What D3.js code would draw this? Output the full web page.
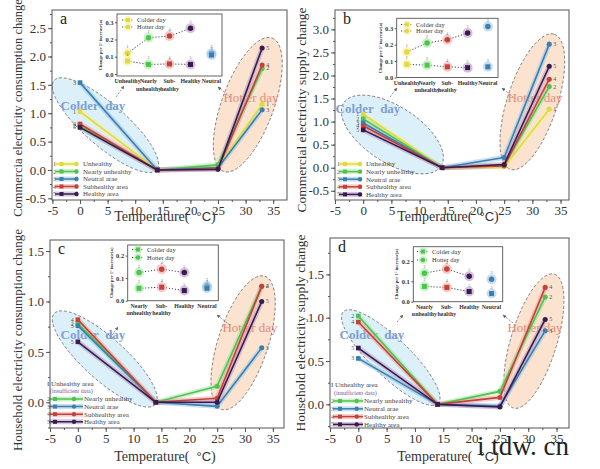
<!DOCTYPE html>
<html><head><meta charset="utf-8">
<script src="https://cdn.jsdelivr.net/npm/d3@7"></script>
<style>body{margin:0;background:#fff}svg{display:block}</style>
</head><body><svg id="c" width="600" height="469" font-family="Liberation Serif, Times New Roman, serif"></svg>
<script>
// ---------- DATA ----------
const temps = [0, 14, 25, 33];
const groupKeys = ["U", "N", "Ne", "S", "H"];
const groupNames = ["Unhealthy", "Nearly unhealthy", "Neutral arae", "Subhealthy area", "Healthy area"];
const groupIds = ["1", "2", "3", "4", "5"];
// panel a : commercial electricity consumption
const aUnhealthy = [1.03, 0, 0.06, 1.16];
const aNearly    = [0.77, 0, 0.09, 1.79];
const aNeutral   = [1.54, 0, 0.04, 1.06];
const aSub       = [0.81, 0, 0.02, 1.85];
const aHealthy   = [0.75, 0, 0.01, 2.15];
// panel b : commercial electricity supply
const bUnhealthy = [1.16, 0, 0.02, 1.27];
const bNearly    = [1.06, 0, 0.05, 1.76];
const bNeutral   = [0.97, 0, 0.22, 2.68];
const bSub       = [0.91, 0, 0.04, 1.92];
const bHealthy   = [0.82, 0, 0.07, 2.20];
// panel c : household electricity consumption
const cNearly    = [0.78, 0, 0.16, 1.15];
const cNeutral   = [0.76, 0, -0.04, 0.54];
const cSub       = [0.82, 0, 0.04, 1.15];
const cHealthy   = [0.60, 0, 0.00, 1.00];
// panel d : household electricity supply
const dNearly    = [1.02, 0, 0.15, 1.24];
const dNeutral   = [0.53, 0, -0.02, 0.85];
const dSub       = [0.95, 0, 0.08, 1.35];
const dHealthy   = [0.65, 0, -0.03, 0.98];
// tick labels
const xTicks  = [-5, 0, 5, 10, 15, 20, 25, 30, 35];
const yTicksA = [-0.5, 0, 0.5, 1, 1.5, 2, 2.5];
const yTicksB = [-0.5, 0, 0.5, 1, 1.5, 2, 2.5, 3];
const yTicksC = [0, 0.5, 1, 1.5];
const yTicksD = [0, 0.5, 1, 1.5];
const insetTicksAB = [0, 0.1, 0.2, 0.3];
const insetTicksCD = [0, 0.1, 0.2];
// insets: change per 1 degree increase
const insetCatsAB = ["Unhealthy", "Nearly unhealthy", "Sub-healthy", "Healthy", "Neutral"];
const insetKeysAB = ["U", "N", "S", "H", "Ne"];
const insetCatsCD = ["Nearly unhealthy", "Sub-healthy", "Healthy", "Neutral"];
const insetKeysCD = ["N", "S", "H", "Ne"];
const insetAHot  = [0.12, 0.21, 0.22, 0.265, 0.12];
const insetACold = [0.075, 0.055, 0.058, 0.055, 0.11];
const insetBHot  = [0.155, 0.21, 0.23, 0.27, 0.31];
const insetBCold = [0.08, 0.075, 0.065, 0.06, 0.065];
const insetCHot  = [0.125, 0.14, 0.125, 0.065];
const insetCCold = [0.055, 0.06, 0.045, 0.055];
const insetDHot  = [0.14, 0.16, 0.125, 0.11];
const insetDCold = [0.075, 0.07, 0.05, 0.04];

// ---------- STYLE ----------
const SERIF = '"Liberation Serif","Times New Roman",serif';
const col  = {U:"#e0d93f", N:"#4fc24f", Ne:"#3b7fb0", S:"#c4403a", H:"#3a1a4e"};
const halo = {U:"#f3f09a", N:"#a6e8a6", Ne:"#9cc6e6", S:"#f0a4a0", H:"#b49ac4"};
const catLines = {"Unhealthy":["Unhealthy"], "Nearly unhealthy":["Nearly","unhealthy"], "Sub-healthy":["Sub-","healthy"], "Healthy":["Healthy"], "Neutral":["Neutral"]};
const fmt = v => d3.format(".1f")(v).replace("\u2212", "-");

const mk = (keys, vals) => keys.map((k, i) => ({k, id: groupIds[groupKeys.indexOf(k)], name: groupNames[groupKeys.indexOf(k)], v: vals[i]}));

const panels = [
 {letter:"a", frame:[52,10,287,200], xd:[-5.07,37.5], yd:[-0.53,2.82], yt:yTicksA,
  series: mk(["U","N","Ne","S","H"], [aUnhealthy,aNearly,aNeutral,aSub,aHealthy]),
  ytitle:"Commercia electricity consumption change", ytx:22, yty:108, ytfs:12.5, xtx:165, xty:221,
  legend:{x:53, y:164, dy:7.5, end:25, sq:8.5, ci:23.5, tx:30, header:false},
  ell:[{cx:4.6,cy:0.79,rx:68,ry:21,rot:41,t:"cold"},{cx:30.4,cy:1.15,rx:71,ry:26,rot:-70,t:"hot"}],
  coldT:[93,110], hotT:[251,102],
  inset:{r:[117,14,222,76], yd:[-0.012,0.348], yt:insetTicksAB, cats:insetCatsAB, keys:insetKeysAB, hot:insetAHot, cold:insetACold, leg:[122,20,7]},
  arrows:[[116,97,124,86],[230,97,218,87]]},
 {letter:"b", frame:[335,10,569,200], xd:[-5,36.5], yd:[-0.7,3.42], yt:yTicksB,
  series: mk(["U","N","Ne","S","H"], [bUnhealthy,bNearly,bNeutral,bSub,bHealthy]),
  ytitle:"Commercial electricity supply change", ytx:306, yty:110, ytfs:13.5, xtx:448, xty:221,
  legend:{x:337, y:164, dy:7.6, end:25, sq:8, ci:23, tx:29, header:false},
  ell:[{cx:5.18,cy:0.72,rx:58,ry:28,rot:33,t:"cold"},{cx:30,cy:1.43,rx:71,ry:25,rot:-72,t:"hot"}],
  coldT:[368,113], hotT:[535,102],
  inset:{r:[396.7,18.3,498,77.5], yd:[0,0.36], yt:insetTicksAB, cats:insetCatsAB, keys:insetKeysAB, hot:insetBHot, cold:insetBCold, leg:[401,24.5,6.5]},
  arrows:[[390,97,397,88],[513,97,502,88]]},
 {letter:"c", frame:[50,240,284,428], xd:[-5,37], yd:[-0.255,1.61], yt:yTicksC,
  series: mk(["N","Ne","S","H"], [cNearly,cNeutral,cSub,cHealthy]),
  ytitle:"Household electricity consumption change", ytx:22, yty:340, ytfs:13, xtx:165, xty:461,
  legend:{x:47, y:399, dy:7.6, end:36, sq:8, ci:27, tx:37, header:[47,386,392.5]},
  ell:[{cx:4.83,cy:0.43,rx:68,ry:21,rot:42,t:"cold"},{cx:29.66,cy:0.59,rx:70,ry:25,rot:-72,t:"hot"}],
  coldT:[93,339], hotT:[250,332],
  inset:{r:[127.7,245,218.3,300.7], yd:[0,0.247], yt:insetTicksCD, cats:insetCatsCD, keys:insetKeysCD, hot:insetCHot, cold:insetCCold, leg:[132,249.5,8]},
  arrows:[[110,338,118,327],[230,325,217,315]]},
 {letter:"d", frame:[330,238,569,428], xd:[-5,37.2], yd:[-0.273,1.92], yt:yTicksD,
  series: mk(["N","Ne","S","H"], [dNearly,dNeutral,dSub,dHealthy]),
  ytitle:"Household electricity supply change", ytx:305, yty:333, ytfs:13.5, xtx:448, xty:461,
  legend:{x:331, y:401, dy:7.8, end:32, sq:9, ci:25.7, tx:33, header:[331,387,394.5]},
  ell:[{cx:5.73,cy:0.54,rx:66,ry:19,rot:44,t:"cold"},{cx:31,cy:0.73,rx:70,ry:23,rot:-73,t:"hot"}],
  coldT:[372,339], hotT:[535,332],
  inset:{r:[413.3,246.7,502.7,301.7], yd:[0,0.27], yt:insetTicksCD, cats:insetCatsCD, keys:insetKeysCD, hot:insetDHot, cold:insetDCold, leg:[417,251.5,8.5]},
  arrows:[[397,322,403,315],[513,323,503,315]]}
];

const svg = d3.select("#c");
const defs = svg.append("defs");
defs.append("marker").attr("id","arr").attr("viewBox","0 0 10 10").attr("refX",9).attr("refY",5)
  .attr("markerWidth",5).attr("markerHeight",5).attr("orient","auto")
  .append("path").attr("d","M0,0L10,5L0,10z").attr("fill","#666");

function marker(g, shape, cx, cy, c, s) {
  if (shape === "sq") g.append("rect").attr("x", cx - s).attr("y", cy - s).attr("width", 2*s).attr("height", 2*s).attr("fill", c);
  else g.append("circle").attr("cx", cx).attr("cy", cy).attr("r", s*1.1).attr("fill", c);
}

panels.forEach((p, pi) => {
  const [fx0, fy0, fx1, fy1] = p.frame;
  const x = d3.scaleLinear().domain(p.xd).range([fx0, fx1]);
  const y = d3.scaleLinear().domain(p.yd).range([fy1, fy0]);
  const g = svg.append("g");
  const cid = "clip" + pi;
  defs.append("clipPath").attr("id", cid).append("rect").attr("x", fx0).attr("y", fy0).attr("width", fx1 - fx0).attr("height", fy1 - fy0);
  const pg = g.append("g").attr("clip-path", `url(#${cid})`);

  // ellipses
  p.ell.forEach(e => {
    pg.append("ellipse").attr("rx", e.rx).attr("ry", e.ry)
      .attr("transform", `translate(${x(e.cx)},${y(e.cy)}) rotate(${e.rot})`)
      .attr("fill", e.t === "cold" ? "#dcf0f9" : "#fbe3cf")
      .attr("stroke", "#6f6f6f").attr("stroke-width", 0.8).attr("stroke-dasharray", "3,2");
  });
  pg.append("text").attr("x", p.coldT[0]).attr("y", p.coldT[1]).attr("text-anchor", "middle")
    .attr("font-size", 13).attr("font-weight", "bold").attr("fill", "#7f9fd2").style("white-space","pre").text("Colder  day");
  pg.append("text").attr("x", p.hotT[0]).attr("y", p.hotT[1]).attr("text-anchor", "middle")
    .attr("font-size", 13).attr("fill", "#e58a78").style("white-space","pre").text("Hotter day");

  // lines
  const line = d3.line().x((d, i) => x(temps[i])).y(d => y(d));
  p.series.forEach(s => {
    pg.append("path").attr("d", line(s.v)).attr("fill", "none").attr("stroke", halo[s.k])
      .attr("stroke-width", 5).attr("stroke-opacity", 0.55).attr("stroke-linejoin", "round");
  });
  p.series.forEach(s => {
    pg.append("path").attr("d", line(s.v)).attr("fill", "none").attr("stroke", col[s.k])
      .attr("stroke-width", 1.6).attr("stroke-linejoin", "round");
    s.v.forEach((v, i) => marker(pg, i < 2 ? "sq" : "ci", x(temps[i]), y(v), col[s.k], 2.3));
    pg.append("text").attr("x", x(temps[0]) - 4).attr("y", y(s.v[0]) + 2).attr("text-anchor", "end")
      .attr("font-size", 6).attr("fill", "#555").text(s.id);
    pg.append("text").attr("x", x(temps[3]) + 4).attr("y", y(s.v[3]) + 2)
      .attr("font-size", 6).attr("fill", "#555").text(s.id);
  });

  // arrows
  p.arrows.forEach(a => {
    g.append("line").attr("x1", a[0]).attr("y1", a[1]).attr("x2", a[2]).attr("y2", a[3])
      .attr("stroke", "#666").attr("stroke-width", 0.7).attr("stroke-dasharray", "2,1.5").attr("marker-end", "url(#arr)");
  });

  // legend
  const L = p.legend;
  if (L.header) {
    g.append("text").attr("x", L.header[0]).attr("y", L.header[1]).attr("font-size", 7).attr("fill", "#444").text("I Unhealthy area");
    g.append("text").attr("x", L.header[0] + 3).attr("y", L.header[2]).attr("font-size", 6).attr("fill", "#6a5aa8").text("(insufficient data)");
  }
  p.series.forEach((s, i) => {
    const ly = L.y + i * L.dy;
    g.append("text").attr("x", L.x).attr("y", ly + 2).attr("font-size", 6).attr("fill", "#555").text(s.id);
    g.append("line").attr("x1", L.x + 2).attr("x2", L.x + L.end).attr("y1", ly).attr("y2", ly)
      .attr("stroke", halo[s.k]).attr("stroke-width", 5).attr("stroke-opacity", 0.55);
    g.append("line").attr("x1", L.x + 2).attr("x2", L.x + L.end).attr("y1", ly).attr("y2", ly)
      .attr("stroke", col[s.k]).attr("stroke-width", 1.5);
    marker(g, "sq", L.x + L.sq, ly, col[s.k], 2);
    marker(g, "ci", L.x + L.ci, ly, col[s.k], 2);
    g.append("text").attr("x", L.x + L.tx).attr("y", ly + 2.4).attr("font-size", 7).attr("fill", "#444").text(s.name);
  });

  // frame and axes
  g.append("rect").attr("x", fx0).attr("y", fy0).attr("width", fx1 - fx0).attr("height", fy1 - fy0)
    .attr("fill", "none").attr("stroke", "#555").attr("stroke-width", 1);
  const minorX = d3.range(-5, p.xd[1], 2.5);
  const minorY = d3.range(Math.ceil(p.yd[0] * 4) / 4, p.yd[1], 0.25);
  const ax = g.append("g").attr("transform", `translate(0,${fy1})`)
    .call(d3.axisBottom(x).tickValues(xTicks).tickFormat(d => String(d).replace("\u2212","-")).tickSize(4).tickPadding(2));
  const axm = g.append("g").attr("transform", `translate(0,${fy1})`)
    .call(d3.axisBottom(x).tickValues(minorX).tickFormat("").tickSize(2));
  const ay = g.append("g").attr("transform", `translate(${fx0},0)`)
    .call(d3.axisLeft(y).tickValues(p.yt).tickFormat(fmt).tickSize(4).tickPadding(2));
  const aym = g.append("g").attr("transform", `translate(${fx0},0)`)
    .call(d3.axisLeft(y).tickValues(minorY).tickFormat("").tickSize(2));
  [ax, axm, ay, aym].forEach(a => {
    a.attr("font-family", SERIF).attr("font-size", 13);
    a.select(".domain").remove();
    a.selectAll("line").attr("stroke", "#555");
    a.selectAll("text").attr("fill", "#333");
  });
  g.append("text").attr("x", fx0 + 8).attr("y", fy0 + 14).attr("font-size", 16).attr("fill", "#222").text(p.letter);
  g.append("text").attr("transform", `translate(${p.ytx},${p.yty}) rotate(-90)`).attr("text-anchor", "middle")
    .attr("font-size", p.ytfs).attr("fill", "#333").text(p.ytitle);
  const xt = g.append("text").attr("x", p.xtx).attr("y", p.xty).attr("text-anchor", "middle").attr("font-size", 14).attr("fill", "#333").style("white-space","pre");
  xt.append("tspan").text("Temperature(  ");
  xt.append("tspan").attr("font-family", '"Liberation Sans",sans-serif').attr("font-size", 13).text("\u00B0C");
  xt.append("tspan").text(")");

  // inset
  const I = p.inset;
  const [ix0, iy0, ix1, iy1] = I.r;
  const ig = g.append("g");
  ig.append("rect").attr("x", ix0).attr("y", iy0).attr("width", ix1 - ix0).attr("height", iy1 - iy0)
    .attr("fill", "#fff").attr("stroke", "#555").attr("stroke-width", 0.9);
  const ixs = d3.scalePoint().domain(I.cats).range([ix0, ix1]).padding(0.5);
  const iys = d3.scaleLinear().domain(I.yd).range([iy1, iy0]);
  const iay = ig.append("g").attr("transform", `translate(${ix0},0)`)
    .call(d3.axisLeft(iys).tickValues(I.yt).tickFormat(fmt).tickSize(2).tickPadding(1.5));
  iay.attr("font-family", SERIF).attr("font-size", 6.5).attr("font-weight", "bold");
  iay.select(".domain").remove();
  iay.selectAll("line").attr("stroke", "#555");
  iay.selectAll("text").attr("fill", "#333");
  ig.append("text").attr("transform", `translate(${ix0 - 15},${(iy0 + iy1) / 2}) rotate(-90)`).attr("text-anchor", "middle")
    .attr("font-size", 4.6).attr("font-weight", "bold").attr("fill", "#333").text("Change per 1\u00B0 increase(a)");
  I.cats.forEach(c => {
    catLines[c].forEach((t, li) => {
      ig.append("text").attr("x", ixs(c)).attr("y", iy1 + 7 + li * 7.5).attr("text-anchor", "middle")
        .attr("font-size", 5.9).attr("font-weight", "bold").attr("fill", "#333").text(t);
    });
  });
  const nLine = I.cats.length - 1;
  const dline = d3.line().x(d => ixs(d.c)).y(d => iys(d.v));
  [I.hot, I.cold].forEach(arr => {
    const pts = I.cats.slice(0, nLine).map((c, i) => ({c, v: arr[i]}));
    ig.append("path").attr("d", dline(pts)).attr("fill", "none").attr("stroke", "#333")
      .attr("stroke-width", 0.9).attr("stroke-dasharray", "1.2,1.8");
  });
  [[I.hot, "ci"], [I.cold, "sq"]].forEach(([arr, shp]) => {
    I.cats.forEach((c, i) => {
      const k = I.keys[i];
      const cx = ixs(c), cy = iys(arr[i]);
      ig.append("circle").attr("cx", cx).attr("cy", cy).attr("r", 5).attr("fill", halo[k]).attr("opacity", 0.6);
      marker(ig, shp, cx, cy, col[k], 2.5);
      ig.append("text").attr("x", cx).attr("y", cy - 5).attr("text-anchor", "middle").attr("font-size", 4).attr("fill", "#666")
        .text(groupIds[groupKeys.indexOf(k)]);
    });
  });
  // inset legend
  const [lx, ly, ldy] = I.leg;
  const k0 = I.keys[0];
  [["Colder day", "sq"], ["Hotter day", "ci"]].forEach(([t, shp], j) => {
    const yy = ly + j * ldy;
    ig.append("line").attr("x1", lx).attr("x2", lx + 12).attr("y1", yy).attr("y2", yy)
      .attr("stroke", "#333").attr("stroke-width", 0.9).attr("stroke-dasharray", "1.2,1.8");
    ig.append("circle").attr("cx", lx + 6).attr("cy", yy).attr("r", 4).attr("fill", halo[k0]).attr("opacity", 0.6);
    marker(ig, shp, lx + 6, yy, col[k0], 2);
    ig.append("text").attr("x", lx + 15).attr("y", yy + 2.3).attr("font-size", 6.5).attr("fill", "#333").text(t);
  });
});

// watermark
svg.append("text").attr("x", 477).attr("y", 455).attr("font-size", 27).attr("fill", "#222").style("white-space","pre").text("i tdw. cn");
</script></body></html>
